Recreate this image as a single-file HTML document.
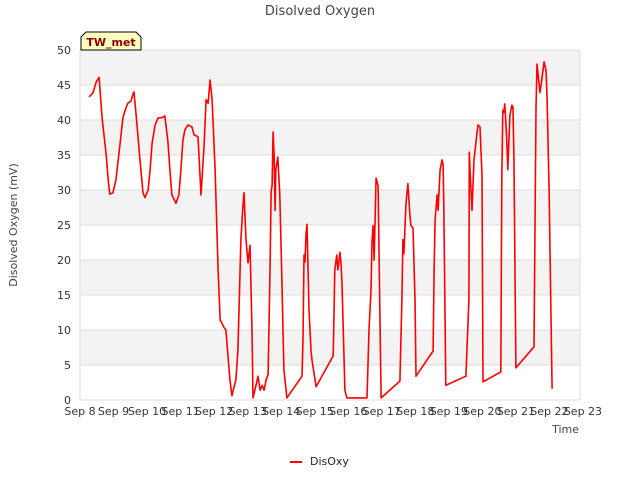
<!DOCTYPE html>
<html><head><meta charset="utf-8"><style>
body{margin:0;background:#fff;font-family:"Liberation Sans","DejaVu Sans",sans-serif;}
svg text{font-family:"DejaVu Sans","Liberation Sans",sans-serif;}
</style></head><body>
<svg id="c" width="640" height="480" xmlns="http://www.w3.org/2000/svg">
<text x="320" y="15" text-anchor="middle" font-size="13" fill="#444">Disolved Oxygen</text>
<g id="bands"></g><g id="grid"></g><g id="ticks"></g>
<path id="line" fill="none" stroke="#ff0000" stroke-width="1.6" stroke-linejoin="round"/>
<text transform="translate(17,225) rotate(-90)" text-anchor="middle" font-size="11" fill="#444">Disolved Oxygen (mV)</text>
<text x="579" y="433" text-anchor="end" font-size="11" fill="#444">Time</text>
<g>
<path d="M81,50 L81,37 L86,32 L136,32 L141,37 L141,50 Z" fill="#ffffc0" stroke="#000" stroke-width="1"/>
<text x="111" y="46" text-anchor="middle" font-size="11" font-weight="bold" fill="#8b0000">TW_met</text></g>
<g>
<line x1="290" y1="462" x2="302" y2="462" stroke="#ff0000" stroke-width="2"/>
<text x="310" y="465" font-size="11" fill="#222">DisOxy</text></g>
</svg>
<script>
const xLabels=["Sep 8","Sep 9","Sep 10","Sep 11","Sep 12","Sep 13","Sep 14","Sep 15","Sep 16","Sep 17","Sep 18","Sep 19","Sep 20","Sep 21","Sep 22","Sep 23"];
const yTicks=[0,5,10,15,20,25,30,35,40,45,50];
const days=[0.27,0.39,0.48,0.57,0.66,0.78,0.84,0.89,0.98,1.07,1.19,1.28,1.37,1.43,1.52,1.58,1.61,1.70,1.79,1.88,1.94,2.03,2.09,2.15,2.24,2.33,2.39,2.48,2.53,2.62,2.68,2.74,2.86,2.95,3.01,3.07,3.13,3.22,3.34,3.40,3.52,3.61,3.70,3.76,3.82,3.88,3.94,4.03,4.12,4.18,4.23,4.29,4.35,4.41,4.47,4.53,4.65,4.71,4.80,4.86,4.89,4.95,5.01,5.07,5.13,5.16,5.25,5.31,5.37,5.43,5.49,5.55,5.61,5.67,5.70,5.73,5.76,5.79,5.82,5.84,5.90,5.96,6.02,6.08,6.17,6.62,6.65,6.68,6.71,6.74,6.77,6.83,6.89,6.92,7.04,7.55,7.60,7.66,7.69,7.72,7.75,7.78,7.81,7.90,7.96,8.56,8.62,8.68,8.71,8.74,8.77,8.83,8.89,8.98,9.54,9.60,9.63,9.66,9.72,9.78,9.84,9.87,9.93,9.99,10.02,10.53,10.56,10.59,10.65,10.68,10.74,10.80,10.83,10.85,10.91,11.51,11.60,11.61,11.63,11.69,11.75,11.81,11.87,11.93,11.99,12.02,12.55,12.58,12.61,12.64,12.67,12.73,12.76,12.82,12.88,12.91,12.94,13.00,13.54,13.60,13.63,13.72,13.78,13.84,13.90,13.93,13.99,14.05,14.08];
const disOxy=[43.3,43.9,45.4,46.1,40.3,35.0,31.4,29.4,29.6,31.4,36.4,40.3,41.7,42.4,42.7,43.7,44.0,39.3,34.3,29.6,28.9,30.0,32.9,36.7,39.3,40.3,40.3,40.4,40.6,37.1,32.9,29.3,28.1,29.3,32.9,37.1,38.6,39.3,39.0,37.9,37.6,29.3,36.4,42.9,42.4,45.7,42.9,32.9,18.6,11.4,11.0,10.4,10.0,6.4,2.9,0.6,2.9,7.1,22.9,27.9,29.6,22.9,19.6,22.1,10.0,0.3,2.1,3.4,1.4,2.1,1.4,2.9,3.6,19.3,29.7,30.7,38.3,35.0,27.1,32.9,34.7,29.3,17.1,4.3,0.3,3.4,8.6,20.7,19.7,23.6,25.1,12.9,7.1,5.7,1.9,6.3,18.6,20.7,18.6,19.7,21.1,19.7,17.1,1.4,0.3,0.3,10.0,15.7,22.6,24.9,20.0,31.7,30.6,0.3,2.7,14.3,22.9,20.9,27.9,30.9,26.4,24.9,24.6,14.3,3.4,7.0,18.6,25.7,29.3,27.1,32.9,34.3,33.6,27.9,2.1,3.4,14.3,35.4,32.9,27.1,34.3,36.9,39.3,39.0,32.1,2.6,4.0,31.4,41.4,41.1,42.3,37.1,32.9,40.7,42.1,41.9,35.0,4.6,7.6,41.7,48.0,43.9,46.0,48.3,47.0,43.0,30.0,11.0,1.6];
const X0=80,X1=580,Y0=50,Y1=400,DAYW=33.53;
const xs=d=>X0+d*DAYW, ys=v=>Y1-(v/50)*(Y1-Y0);
const NS="http://www.w3.org/2000/svg";
function mk(t,a,p){const e=document.createElementNS(NS,t);for(const k in a)e.setAttribute(k,a[k]);p.appendChild(e);return e;}
const bands=document.getElementById('bands'),grid=document.getElementById('grid'),ticks=document.getElementById('ticks');
for(let v=5;v<50;v+=10){const r=mk('rect',{x:X0,y:ys(v+5),width:X1-X0,height:ys(v)-ys(v+5),fill:'#f3f3f3'},bands);

}
yTicks.forEach(v=>{const l=mk('line',{x1:X0,x2:X1,y1:ys(v),y2:ys(v),stroke:'#dddddd','stroke-width':1},grid);


const t=mk('text',{x:X0-9,y:ys(v)+4,'text-anchor':'end','font-size':11,fill:'#333'},ticks);t.textContent=v;

});
mk('line',{x1:X0,x2:X0,y1:Y0,y2:Y1,stroke:'#dddddd'},grid);
mk('line',{x1:X1,x2:X1,y1:Y0,y2:Y1,stroke:'#dddddd'},grid);
xLabels.forEach((s,i)=>{const t=mk('text',{x:xs(i),y:Y1+15,'text-anchor':'middle','font-size':11,fill:'#333'},ticks);t.textContent=s;

});
document.getElementById('line').setAttribute('d',days.map((d,i)=>(i?'L':'M')+xs(d).toFixed(1)+','+ys(disOxy[i]).toFixed(1)).join(''));
</script>
</body></html>
